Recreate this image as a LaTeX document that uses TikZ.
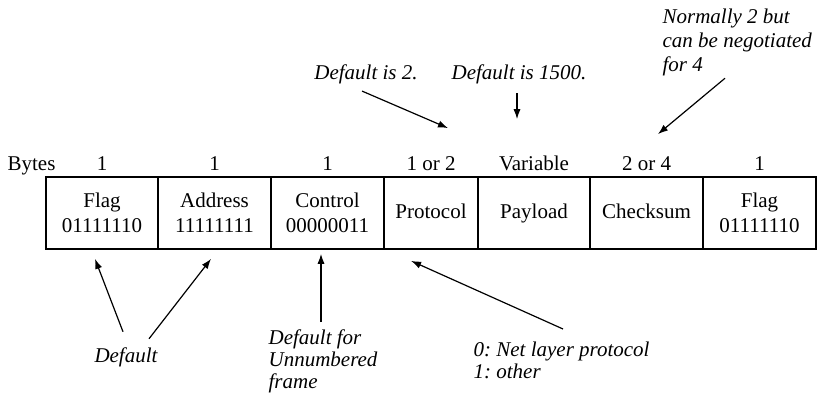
\documentclass[tikz,border=0pt]{standalone}
\usepackage{fontspec}
\setmainfont{Liberation Serif}[
  UprightFont={Liberation Serif},
  ItalicFont={Liberation Serif Italic},
  BoldFont={Liberation Serif Bold}]
\usetikzlibrary{arrows.meta,calc}

\begin{document}
\begin{tikzpicture}[x=0.5pt,y=-0.5pt,line width=0.6pt]
  \tikzset{
    field/.style={draw,line width=0.9pt,minimum height=36pt,inner sep=0pt,align=center,font=\fontsize{10.5}{12.5}\selectfont},
    oneline/.style={text height=7.3pt,text depth=2.2pt},
    nlab/.style={anchor=base,inner sep=0pt,font=\fontsize{10.5}{12.5}\selectfont},
    note/.style={align=left,inner sep=0pt,font=\fontsize{10.5}{11}\selectfont\itshape\frenchspacing},
    pointer/.style={-{Latex[length=5pt,width=3.6pt]}}
  }
  \useasboundingbox (0,0) rectangle (817,395);
  % frame fields
  \node[field,minimum width=56pt] (flagL) at (102,213) {Flag\\01111110};
  \node[field,minimum width=56.5pt] (addr) at (214.5,213) {Address\\11111111};
  \node[field,minimum width=56.5pt] (ctrl) at (327.5,213) {Control\\00000011};
  \node[field,oneline,minimum width=47pt] (proto) at (431,213) {Protocol};
  \node[field,oneline,minimum width=56pt] (payload) at (534,213) {Payload};
  \node[field,oneline,minimum width=56.5pt] (cksum) at (646.5,213) {Checksum};
  \node[field,minimum width=56.5pt] (flagR) at (759.5,213) {Flag\\01111110};
  % byte counts
  \node[nlab,anchor=base west] (bytes) at (7,170) {Bytes};
  \node[nlab] (nflagL) at (102,170) {1};
  \node[nlab] (naddr) at (214.5,170) {1};
  \node[nlab] (nctrl) at (327.5,170) {1};
  \node[nlab] (nproto) at (431,170) {1 or 2};
  \node[nlab] (npayload) at (534,170) {Variable};
  \node[nlab] (ncksum) at (646.5,170) {2 or 4};
  \node[nlab] (nflagR) at (759.5,170) {1};
  % notes above
  \node[note,anchor=base] (dflt2) at (366,80) {Default is 2.};
  \node[note,anchor=base] (dflt1500) at (519,80) {Default is 1500.};
  \node[note,anchor=north west,font=\fontsize{10.5}{12}\selectfont\itshape] (negot) at (662,8) {Normally 2 but\\can be negotiated\\for 4};
  \draw[pointer] ($(dflt2.south)+(-4,6)$) -- ($(proto.north)+(17,-48)$);
  \draw[pointer] ($(dflt1500.south)+(-2,8)$) -- ($(payload.north)+(-17,-57)$);
  \draw[pointer] ($(negot.south west)+(63,2)$) -- ($(cksum.north)+(11.5,-42)$);
  % notes below
  \node[note] (dflt) at (126,357) {Default};
  \node[note,anchor=north west] (unnum) at (268,329) {Default for\\Unnumbered\\frame};
  \node[note,anchor=north west] (netproto) at (473,341) {0: Net layer protocol\\1: other};
  \draw[pointer] ($(dflt.north)+(-3,-15)$) -- ($(flagL.south)+(-7,9)$);
  \draw[pointer] ($(dflt.north)+(23,-8)$) -- ($(addr.south)+(-3.5,9)$);
  \draw[pointer] ($(unnum.north west)+(53,-7)$) -- ($(ctrl.south)+(-6.5,4)$);
  \draw[pointer] ($(netproto.north west)+(90,-12)$) -- ($(proto.south west)+(28,11)$);
\end{tikzpicture}
\end{document}
